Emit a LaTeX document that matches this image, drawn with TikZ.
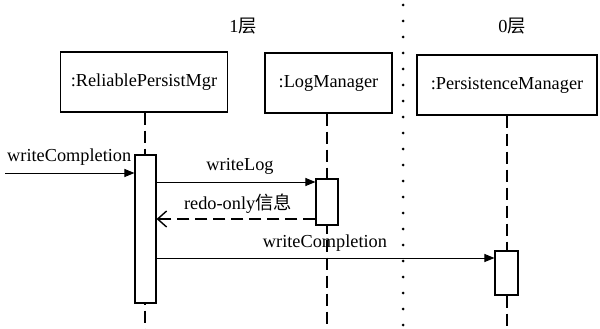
\documentclass[tikz,border=0pt]{standalone}
\usepackage{fontspec}
\setmainfont{Liberation Serif}
\newfontfamily\cjk{Noto Sans CJK SC}
\usetikzlibrary{arrows.meta}
\begin{document}
\begin{tikzpicture}[x=1pt,y=-1pt,
  obj/.style={draw,line width=1.1pt,inner sep=0pt,minimum height=60pt,font=\fontsize{18.3}{21}\selectfont},
  act/.style={draw,fill=white,line width=1.1pt,inner sep=0pt},
  life/.style={line width=2.6pt,dash pattern=on 12pt off 6pt},
  msg/.style={line width=1pt,-{Triangle[length=10pt,width=8pt]}},
  ret/.style={line width=2.4pt,dash pattern=on 12pt off 6pt,-{Straight Barb[length=9pt,width=16pt,line width=1.4pt]}},
  lbl/.style={font=\fontsize{18.3}{21}\selectfont,inner sep=1pt},
  sep/.style={line width=3pt,line cap=round,dash pattern=on 0pt off 16pt}]
\useasboundingbox (0,0) rectangle (600,329);
% layer titles
\node[lbl] (l1) at (243,26) {1{\cjk 层}};
\node[lbl] (l0) at (512,26) {0{\cjk 层}};
% separator
\coordinate (sepT) at (403,5);
\coordinate (sepB) at (403,329);
\draw[sep] (sepT) -- (sepB);
% objects
\node[obj,minimum width=167pt] (rpm) at (144,82) {:ReliablePersistMgr};
\node[obj,minimum width=127pt] (lm) at (328.5,83) {:LogManager};
\node[obj,minimum width=180pt] (pm) at (507,85) {:PersistenceManager};
% lifelines
\coordinate (e1) at (145,329);
\coordinate (e2) at (327,329);
\coordinate (e3) at (507,329);
\draw[life] (rpm.south -| e1) -- (e1);
\draw[life] (lm.south -| e2) -- (e2);
\draw[life] (pm.south -| e3) -- (e3);
% activations
\node[act,minimum width=21pt,minimum height=148pt] (a1) at (145.5,229) {};
\node[act,minimum width=22pt,minimum height=46pt] (a2) at (327,202) {};
\node[act,minimum width=23pt,minimum height=44pt] (a3) at (506.5,273) {};
% messages
\coordinate (in) at (5,173);
\draw[msg] (in) -- (in -| a1.west);
\node[lbl,anchor=west] (t0) at (6,157) {writeCompletion};
\coordinate (y1) at (0,182);
\draw[msg] (a1.east |- y1) -- (a2.west |- y1);
\node[lbl] (t1) at (240,166) {writeLog};
\coordinate (y2) at (0,219);
\draw[ret] (a2.west |- y2) -- (a1.east |- y2);
\node[lbl] (t2) at (238,204) {redo-only{\cjk 信息}};
\coordinate (y3) at (0,258);
\draw[msg] (a1.east |- y3) -- (a3.west |- y3);
\node[lbl] (t3) at (325,243) {writeCompletion};
\end{tikzpicture}
\end{document}
